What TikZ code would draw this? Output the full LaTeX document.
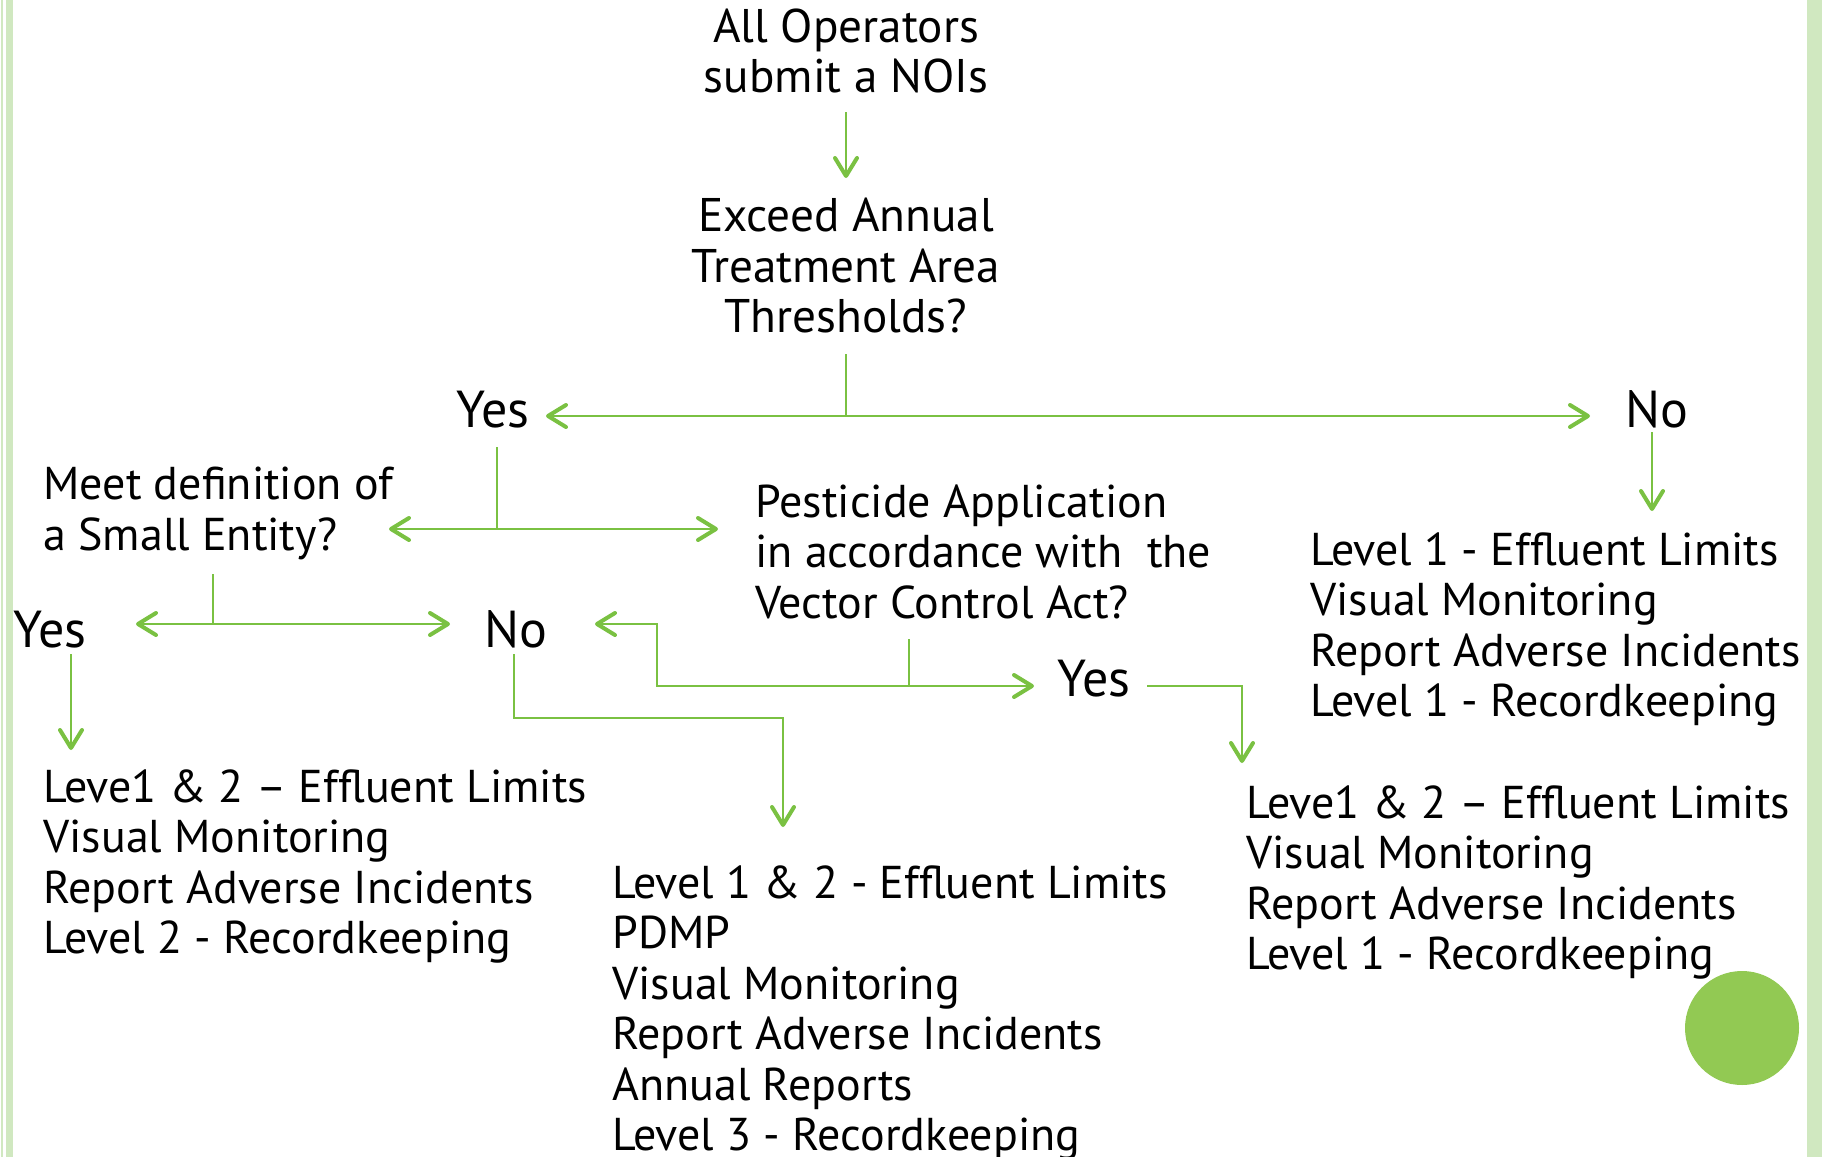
\documentclass[tikz,border=0pt]{standalone}
\usepackage{fontspec}
\setmainfont{PT Sans}
\usetikzlibrary{arrows.meta}
\definecolor{arrowgreen}{RGB}{122,193,66}
\definecolor{dotgreen}{RGB}{146,201,83}
\definecolor{bandgreen}{RGB}{208,232,192}
\begin{document}
\begin{tikzpicture}[x=0.5pt,y=-0.5pt,
  conn/.style={draw=arrowgreen, line width=1pt},
  arr/.style={conn, -{Straight Barb[length=9pt,width=11pt,line width=2pt,round]}},
  txt/.style={inner sep=0pt, font=\fontsize{23}{25.25}\selectfont, align=left, anchor=north west},
  ctxt/.style={inner sep=0pt, font=\fontsize{23.6}{25.25}\selectfont, align=center, anchor=north},
  yn/.style={inner sep=0pt, font=\fontsize{26}{28}\selectfont, anchor=base}]
\useasboundingbox (0,0) rectangle (1822,1157);
\fill[white] (0,0) rectangle (1822,1157);
% page decorations
\fill[bandgreen] (1,0) rectangle (3,1157);
\fill[bandgreen] (6,0) rectangle (13,1157);
\fill[bandgreen] (1807,0) rectangle (1822,1157);
\fill[dotgreen] (1742,1028) circle (57);

% text nodes
\node[ctxt] (noi) at (846,8) {All Operators\\submit a NOIs};
\node[ctxt] (thr) at (846,198) {Exceed Annual\\Treatment Area\\Thresholds?};
\node[yn] (yesA) at (493,427) {Yes};
\node[yn] (noA) at (1657,427) {No};
\node[txt] (small) at (43,467) {Meet definition of\\a Small Entity?};
\node[txt] (vca) at (755,484) {Pesticide Application\\in accordance with\ \ the\\Vector Control Act?};
\node[yn] (yesB) at (50,647) {Yes};
\node[yn] (noB) at (516,647) {No};
\node[yn] (yesC) at (1094,696) {Yes};
\node[txt] (resNo) at (1310,532) {Level 1 - Effluent Limits\\Visual Monitoring\\Report Adverse Incidents\\Level 1 - Recordkeeping};
\node[txt] (resSmall) at (43,769) {Leve1 \& 2 – Effluent Limits\\Visual Monitoring\\Report Adverse Incidents\\Level 2 - Recordkeeping};
\node[txt] (resLarge) at (612,865) {Level 1 \& 2 - Effluent Limits\\PDMP\\Visual Monitoring\\Report Adverse Incidents\\Annual Reports\\Level 3 - Recordkeeping};
\node[txt] (resVca) at (1246,785) {Leve1 \& 2 – Effluent Limits\\Visual Monitoring\\Report Adverse Incidents\\Level 1 - Recordkeeping};

% connector coordinates
\coordinate (a1s) at (846,112);
\coordinate (a1e) at (846,178);
\coordinate (t0) at (846,354);
\coordinate (t1) at (846,416);
\coordinate (tL) at (546,416);
\coordinate (tR) at (1590,416);
\coordinate (y0) at (497,447);
\coordinate (y1) at (497,529);
\coordinate (yL) at (389,529);
\coordinate (yR) at (718,529);
\coordinate (s0) at (213,574);
\coordinate (s1) at (213,624);
\coordinate (sL) at (136,624);
\coordinate (sR) at (450,624);
\coordinate (v0) at (909,639);
\coordinate (v1) at (909,686);
\coordinate (vR) at (1034,686);
\coordinate (vL1) at (657,686);
\coordinate (vL2) at (657,624);
\coordinate (vL) at (595,624);
\coordinate (c0) at (1147,686);
\coordinate (c1) at (1242,686);
\coordinate (cE) at (1242,763);
\coordinate (n0) at (514,654);
\coordinate (n1) at (514,718);
\coordinate (n2) at (783,718);
\coordinate (nE) at (783,827);
\coordinate (b0) at (71,654);
\coordinate (bE) at (71,750);
\coordinate (r0) at (1652,432);
\coordinate (rE) at (1652,511);

% connectors
\draw[arr] (a1s) -- (a1e);
\draw[conn] (t0) -- (t1);
\draw[arr] (t1) -- (tL);
\draw[arr] (t1) -- (tR);
\draw[conn] (y0) -- (y1);
\draw[arr] (y1) -- (yL);
\draw[arr] (y1) -- (yR);
\draw[conn] (s0) -- (s1);
\draw[arr] (s1) -- (sL);
\draw[arr] (s1) -- (sR);
\draw[conn] (v0) -- (v1);
\draw[arr] (v1) -- (vR);
\draw[arr] (v1) -- (vL1) -- (vL2) -- (vL);
\draw[arr] (c0) -- (c1) -- (cE);
\draw[arr] (n0) -- (n1) -- (n2) -- (nE);
\draw[arr] (b0) -- (bE);
\draw[arr] (r0) -- (rE);
\end{tikzpicture}
\end{document}
